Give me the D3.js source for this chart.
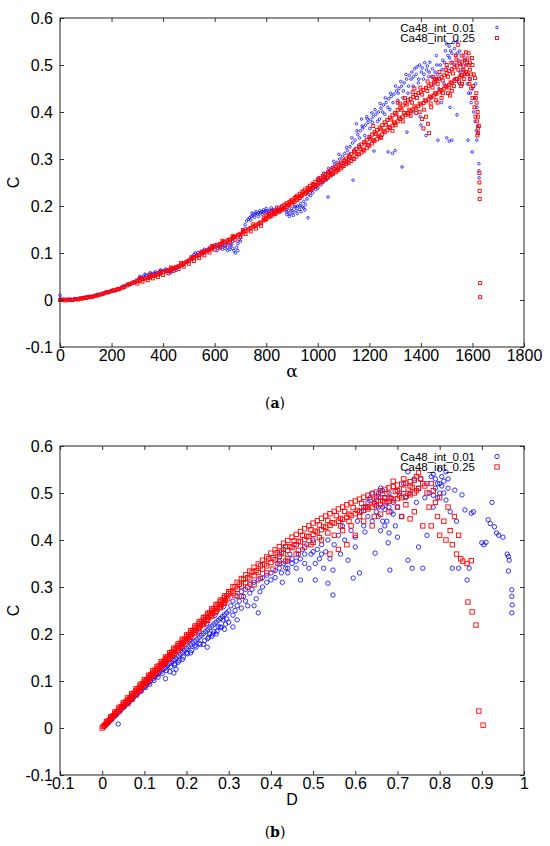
<!DOCTYPE html>
<html><head><meta charset="utf-8">
<script src="https://cdn.jsdelivr.net/npm/d3@7"></script>
<style>body{margin:0;background:#fff}svg{display:block}</style>
</head><body><svg id="c" width="550" height="846"></svg>
<script>
const alphaTicks=[0,200,400,600,800,1000,1200,1400,1600,1800];
const dTicks=[-0.1,0,0.1,0.2,0.3,0.4,0.5,0.6,0.7,0.8,0.9,1];
const cTicks=[-0.1,0,0.1,0.2,0.3,0.4,0.5,0.6];
const seriesNames=["Ca48_int_0.01","Ca48_int_0.25"];
const captions=["a","b"];

// Panel (a): C versus alpha
const blueA=[[0,0.010],[5,0.002],[15,0.001],[25,0.000],[35,0.002],[45,0.001],[55,0.003],[65,0.002],[75,0.004],[85,0.005],[95,0.006],[105,0.005],[115,0.008],[125,0.007],[135,0.010],[145,0.012],[155,0.011],[165,0.014],[175,0.016],[185,0.015],[195,0.019],[205,0.020],[215,0.019],[225,0.024],[235,0.026],[245,0.030],[255,0.031],[265,0.034],[275,0.033],[285,0.038],
[295,0.042],[305,0.045],[315,0.048],[325,0.051],[335,0.053],[345,0.054],[355,0.056],[365,0.057],[375,0.058],[385,0.060],[395,0.062],[405,0.063],[415,0.064],[325,0.046],[345,0.050],[365,0.052],[385,0.056],
[310,0.050],[330,0.055],[350,0.058],[370,0.060],[390,0.064],[410,0.066],
[425,0.060],[435,0.062],[445,0.066],[455,0.069],[465,0.071],[475,0.073],[485,0.079],[495,0.083],[430,0.058],[450,0.063],
[505,0.088],[515,0.093],[520,0.097],[525,0.100],[535,0.101],[545,0.102],[555,0.104],[565,0.106],[575,0.108],[585,0.110],[595,0.112],[530,0.095],[550,0.098],[570,0.103],[590,0.108],[560,0.108],[580,0.112],[600,0.118],
[605,0.113],[615,0.114],[625,0.117],[635,0.115],[640,0.110],[645,0.119],[650,0.112],[655,0.122],[660,0.108],[665,0.118],[670,0.124],[675,0.105],[680,0.100],[685,0.112],[690,0.120],[695,0.128],[700,0.133],[620,0.110],[630,0.108],[660,0.115],[670,0.110],[610,0.105],[650,0.105],[690,0.105],[700,0.125],
[705,0.140],[712,0.150],[718,0.160],[724,0.168],[730,0.172],[736,0.175],[742,0.178],[748,0.180],[754,0.182],[760,0.184],[766,0.183],[772,0.186],[778,0.185],[784,0.188],[790,0.187],[796,0.189],[740,0.170],[755,0.176],[770,0.178],[785,0.182],[720,0.152],[745,0.185],[760,0.188],[775,0.190],[790,0.192],
[802,0.190],[808,0.188],[814,0.191],[820,0.190],[826,0.192],[832,0.189],[838,0.193],[844,0.190],[850,0.192],[856,0.195],[862,0.194],[868,0.197],[810,0.184],[830,0.185],[850,0.187],[800,0.195],[820,0.196],[840,0.198],[860,0.200],
[874,0.192],[880,0.187],[886,0.190],[892,0.183],[898,0.194],[904,0.186],[910,0.198],[916,0.190],[922,0.200],[928,0.193],[934,0.205],[940,0.198],[946,0.210],[952,0.203],[958,0.215],[890,0.178],[905,0.180],[920,0.184],[935,0.188],[950,0.192],[962,0.175],[880,0.182],[900,0.190],[915,0.198],[930,0.200],[945,0.196],
[965,0.225],[975,0.232],[985,0.240],[995,0.246],[1005,0.253],[1015,0.258],[1025,0.262],[1035,0.270],[1045,0.275],[1055,0.282],[1065,0.288],[1075,0.293],[1085,0.300],[1095,0.306],[980,0.228],[1000,0.238],[1020,0.250],[1040,0.219],[1060,0.272],[1080,0.280],
[962,0.232],[972,0.222],[982,0.245],[992,0.235],[1002,0.260],[1012,0.245],[1022,0.270],[1032,0.255],[1042,0.280],[1052,0.265],[1062,0.295],[1072,0.280],[1082,0.310],[1092,0.290],
[1105,0.312],[1115,0.318],[1125,0.326],[1135,0.334],[1145,0.340],[1155,0.352],[1165,0.360],[1175,0.366],[1185,0.372],[1195,0.378],[1205,0.384],[1215,0.390],[1225,0.395],[1150,0.375],[1170,0.385],[1190,0.390],[1210,0.398],[1137,0.255],[1120,0.300],[1160,0.330],[1200,0.345],[1218,0.317],
[1102,0.290],[1112,0.325],[1122,0.310],[1132,0.345],[1142,0.320],[1152,0.360],[1162,0.345],[1172,0.370],[1182,0.350],[1192,0.385],[1202,0.365],[1212,0.378],[1222,0.405],[1232,0.380],[1242,0.418],[1252,0.400],[1262,0.430],[1272,0.410],[1282,0.440],[1292,0.420],
[1235,0.400],[1245,0.408],[1255,0.415],[1265,0.420],[1275,0.428],[1285,0.433],[1295,0.438],[1240,0.385],[1260,0.395],[1280,0.405],[1273,0.315],[1290,0.312],[1300,0.318],
[1305,0.445],[1315,0.450],[1325,0.455],[1335,0.462],[1345,0.470],[1355,0.478],[1365,0.485],[1375,0.492],[1385,0.496],[1395,0.500],[1405,0.494],[1415,0.505],[1425,0.498],[1435,0.506],[1445,0.492],[1455,0.485],[1310,0.425],[1330,0.430],[1350,0.440],[1370,0.455],[1390,0.462],[1410,0.470],[1430,0.475],[1450,0.460],[1327,0.283],[1346,0.357],[1397,0.390],[1400,0.372],[1420,0.350],[1440,0.430],[1370,0.400],
[1302,0.455],[1312,0.440],[1322,0.465],[1332,0.445],[1342,0.480],[1352,0.455],[1362,0.470],[1372,0.475],[1382,0.480],[1392,0.470],[1402,0.485],[1412,0.480],[1422,0.490],[1432,0.485],[1442,0.475],[1452,0.470],
[1465,0.480],[1475,0.500],[1485,0.510],[1495,0.530],[1500,0.545],[1505,0.520],[1510,0.540],[1515,0.530],[1520,0.525],[1525,0.548],[1530,0.535],[1535,0.520],[1540,0.550],[1545,0.510],[1550,0.530],[1555,0.500],[1466,0.340],[1500,0.345],[1510,0.338],[1520,0.340],[1513,0.410],[1470,0.450],[1490,0.460],[1480,0.420],[1530,0.470],[1550,0.460],[1540,0.394],[1460,0.520],
[1462,0.500],[1472,0.470],[1482,0.490],[1492,0.505],[1502,0.495],[1512,0.515],[1522,0.505],[1532,0.500],[1542,0.525],[1552,0.485],[1562,0.490],[1572,0.510],[1582,0.480],[1592,0.440],
[1565,0.520],[1570,0.480],[1575,0.500],[1580,0.460],[1583,0.340],[1585,0.440],[1590,0.470],[1595,0.420],[1599,0.315],[1600,0.450],[1605,0.400],[1608,0.430],[1610,0.380],[1612,0.460],[1615,0.360],[1617,0.340],[1618,0.410],[1620,0.370],[1622,0.355],[1625,0.290],[1625,0.275],[1626,0.260]];

const redA=[[0,0.000],[10,0.001],[20,-0.001],[30,0.000],[40,0.001],[50,0.000],[60,0.002],[70,0.001],[80,0.003],[90,0.004],
[100,0.004],[110,0.006],[120,0.006],[130,0.008],[140,0.009],[150,0.011],[160,0.012],[170,0.014],[180,0.016],[190,0.017],
[200,0.019],[210,0.021],[220,0.022],[230,0.023],[240,0.026],[250,0.028],[260,0.031],[270,0.034],[280,0.036],[290,0.038],
[300,0.040],[310,0.042],[320,0.044],[330,0.046],[340,0.047],[350,0.049],[360,0.051],[370,0.053],[380,0.054],[390,0.057],
[400,0.059],[410,0.061],[420,0.063],[430,0.065],[440,0.068],[450,0.070],[460,0.072],[470,0.075],[480,0.078],[490,0.081],
[500,0.084],[510,0.087],[520,0.090],[530,0.093],[540,0.096],[550,0.099],[560,0.102],[570,0.105],[580,0.108],[590,0.111],
[600,0.114],[610,0.117],[620,0.119],[630,0.122],[640,0.124],[650,0.127],[660,0.129],[670,0.132],[680,0.135],[690,0.138],
[700,0.141],[710,0.144],[720,0.147],[730,0.150],[740,0.153],[750,0.156],[760,0.159],[770,0.162],[780,0.165],[790,0.169],
[5,0.000],[25,0.001],[45,0.000],[65,0.002],[85,0.003],[105,0.006],[125,0.007],[145,0.010],[165,0.013],[185,0.017],[205,0.020],[225,0.023],[245,0.027],[265,0.033],[285,0.037],[305,0.041],[325,0.045],[345,0.048],[365,0.052],[385,0.056],
[415,0.062],[435,0.067],[455,0.070],[475,0.077],[495,0.082],[515,0.089],[535,0.095],[555,0.100],[575,0.106],[595,0.113],[615,0.117],[635,0.124],[655,0.127],[675,0.134],[695,0.139],[715,0.146],[735,0.152],[755,0.158],[775,0.164],[795,0.171],
[300,0.035],[320,0.039],[340,0.042],[360,0.046],[380,0.049],[400,0.053],[420,0.057],[440,0.062],[460,0.066],[480,0.071],[500,0.077],[520,0.083],[540,0.089],[560,0.095],[580,0.101],[600,0.107],[620,0.112],[640,0.117],[660,0.122],[680,0.128],[700,0.134],[720,0.140],[740,0.146],[760,0.152],[780,0.158],
[310,0.047],[350,0.054],[390,0.061],[430,0.069],[470,0.079],[510,0.091],[550,0.103],[590,0.115],[630,0.126],[670,0.136],[710,0.149],[750,0.161],[790,0.174],
[800,0.180],[800,0.172],[810,0.183],[810,0.176],[820,0.186],[820,0.179],[830,0.189],[830,0.182],[840,0.192],[840,0.186],[850,0.196],[850,0.188],[860,0.199],[860,0.192],[870,0.202],[870,0.195],[880,0.206],[880,0.198],[890,0.209],[890,0.202],
[900,0.213],[900,0.205],[910,0.217],[910,0.209],[920,0.222],[920,0.213],[930,0.226],[930,0.217],[940,0.230],[940,0.222],[950,0.235],[950,0.226],[960,0.239],[960,0.230],[970,0.243],[970,0.234],[980,0.247],[980,0.238],[990,0.251],[990,0.242],
[1000,0.256],[1000,0.246],[1010,0.260],[1010,0.250],[1020,0.264],[1020,0.254],[1030,0.268],[1030,0.257],[1040,0.272],[1040,0.261],[1050,0.276],[1050,0.265],[1060,0.280],[1060,0.269],[1070,0.284],[1070,0.272],[1080,0.288],[1080,0.276],[1090,0.292],[1090,0.280],
[1100,0.297],[1100,0.285],[1110,0.301],[1110,0.289],[1120,0.306],[1120,0.292],[1130,0.311],[1130,0.296],[1140,0.316],[1140,0.300],[1150,0.321],[1150,0.305],[1160,0.326],[1160,0.310],[1170,0.331],[1170,0.314],[1180,0.336],[1180,0.318],[1190,0.341],[1190,0.323],
[1200,0.347],[1200,0.328],[1210,0.352],[1210,0.333],[1220,0.357],[1220,0.338],[1230,0.362],[1230,0.342],[1240,0.367],[1240,0.347],[1250,0.372],[1250,0.352],[1260,0.378],[1260,0.357],[1270,0.383],[1270,0.361],[1280,0.388],[1280,0.366],[1290,0.393],[1290,0.371],
[1300,0.398],[1300,0.376],[1310,0.404],[1310,0.380],[1320,0.409],[1320,0.385],[1330,0.414],[1330,0.389],[1340,0.419],[1340,0.394],[1350,0.425],[1350,0.398],[1360,0.428],[1360,0.402],[1370,0.432],[1370,0.405],[1380,0.436],[1380,0.408],[1390,0.440],[1390,0.412],
[1400,0.443],[1400,0.416],[1410,0.447],[1410,0.419],[1420,0.451],[1420,0.423],[1430,0.455],[1430,0.427],[1440,0.459],[1440,0.431],[1450,0.463],[1450,0.435],[1460,0.467],[1460,0.438],[1470,0.471],[1470,0.442],[1480,0.474],[1480,0.446],[1490,0.478],[1490,0.450],
[1500,0.483],[1500,0.454],[1510,0.487],[1510,0.458],[1520,0.491],[1520,0.462],[1530,0.495],[1530,0.466],[1540,0.499],[1540,0.470],[1550,0.503],[1550,0.474],[1560,0.507],[1560,0.478],[1570,0.511],[1570,0.482],[1580,0.514],[1580,0.480],[1590,0.505],[1590,0.470],
[805,0.181],[815,0.178],[825,0.185],[835,0.183],[845,0.192],[855,0.190],[865,0.194],[875,0.203],[885,0.201],[895,0.210],[905,0.208],[915,0.219],[925,0.216],[935,0.221],[945,0.231],[955,0.228],[965,0.238],[975,0.236],[985,0.246],[995,0.243],
[1005,0.255],[1015,0.252],[1025,0.262],[1035,0.260],[1045,0.270],[1055,0.268],[1065,0.279],[1075,0.276],[1085,0.287],[1095,0.284],[1105,0.296],[1115,0.293],[1125,0.304],[1135,0.301],[1145,0.314],[1155,0.311],[1165,0.322],[1175,0.320],[1185,0.333],[1195,0.330],
[1205,0.343],[1215,0.340],[1225,0.353],[1235,0.350],[1245,0.363],[1255,0.360],[1265,0.373],[1275,0.368],[1285,0.384],[1295,0.378],[1305,0.395],[1315,0.388],[1325,0.405],[1335,0.398],[1345,0.416],[1355,0.405],[1365,0.420],[1375,0.412],[1385,0.430],[1395,0.418],
[1405,0.437],[1415,0.425],[1425,0.445],[1435,0.433],[1445,0.452],[1455,0.440],[1465,0.460],[1475,0.447],[1485,0.467],[1495,0.455],[1505,0.475],[1515,0.463],[1525,0.482],[1535,0.470],[1545,0.490],[1555,0.478],[1565,0.497],[1575,0.485],[1585,0.500],[1595,0.480],
[1302,0.372],[1318,0.418],[1338,0.430],[1352,0.395],[1368,0.442],[1382,0.398],[1398,0.452],[1412,0.405],[1426,0.465],[1438,0.418],[1448,0.475],[1458,0.425],[1472,0.485],[1486,0.440],[1496,0.490],[1508,0.452],[1518,0.505],[1528,0.455],[1538,0.510],[1548,0.465],[1558,0.520],[1568,0.470],[1578,0.505],[1588,0.460],[1598,0.515],[1603,0.455],[1613,0.430],[1619,0.350],[1621,0.390],[1410,0.365],[1432,0.355],
[1215,0.370],[1245,0.345],[1290,0.360],[1310,0.420],[1330,0.380],
[1360,0.392],[1375,0.450],[1395,0.400],[1405,0.385],[1420,0.390],[1428,0.375],[1440,0.410],[1455,0.470],[1465,0.420],[1480,0.430],[1500,0.500],[1505,0.440],[1513,0.435],[1520,0.445],[1535,0.520],[1545,0.543],[1555,0.455],[1560,0.460],[1565,0.490],[1575,0.527],[1585,0.525],[1590,0.490],[1595,0.450],[1600,0.500],[1600,0.430],[1605,0.480],[1608,0.410],[1610,0.472],[1612,0.390],[1615,0.440],[1616,0.420],[1618,0.380],[1620,0.400],[1622,0.365],[1622,0.355],[1625,0.370],[1627,0.270],[1627,0.250],[1628,0.232],[1628,0.215],[1630,0.036],[1630,0.006]];

// Panel (b): C versus D
const blueB=[[0.005,0.003],[0.01,0.008],[0.015,0.012],[0.02,0.017],[0.025,0.022],[0.03,0.026],[0.035,0.031],[0.038,0.0085],[0.04,0.035],[0.045,0.040],[0.05,0.044],[0.055,0.049],[0.06,0.053],[0.065,0.057],[0.07,0.062],[0.075,0.066],[0.08,0.071],[0.085,0.075],[0.09,0.080],[0.095,0.084],[0.10,0.088],[0.105,0.092],[0.11,0.096],[0.115,0.101],[0.12,0.105],[0.125,0.109],[0.13,0.113],[0.135,0.117],[0.14,0.121],[0.145,0.125],[0.15,0.128],[0.155,0.133],[0.16,0.137],[0.165,0.141],[0.17,0.145],[0.175,0.149],[0.18,0.153],[0.185,0.157],[0.19,0.161],[0.195,0.165],[0.2,0.169],[0.205,0.173],[0.21,0.177],[0.215,0.181],[0.22,0.185],[0.225,0.189],[0.23,0.193],[0.235,0.197],[0.24,0.201],[0.245,0.205],[0.25,0.209],[0.255,0.213],[0.26,0.217],[0.265,0.221],[0.27,0.225],[0.275,0.229],[0.28,0.233],[0.285,0.237],[0.29,0.241],[0.295,0.245],[0.30,0.249],
[0.0125,0.009],[0.0225,0.018],[0.0325,0.027],[0.0425,0.036],[0.0525,0.045],[0.0625,0.053],[0.0725,0.062],[0.0825,0.070],[0.0925,0.078],[0.1025,0.086],[0.1125,0.093],[0.1225,0.101],[0.1325,0.108],[0.1425,0.116],[0.1525,0.122],[0.1625,0.130],[0.1725,0.137],[0.1825,0.144],[0.1925,0.151],[0.2025,0.158],[0.2125,0.165],[0.2225,0.172],[0.2325,0.178],[0.2425,0.186],[0.2525,0.193],[0.2625,0.200],[0.2725,0.206],[0.2825,0.214],[0.2925,0.221],
[0.1075,0.097],[0.1275,0.115],[0.1475,0.134],[0.1675,0.152],[0.1875,0.170],[0.2075,0.188],[0.2275,0.205],[0.2475,0.222],[0.2675,0.240],[0.2875,0.258],
[0.15,0.105],[0.16,0.120],[0.17,0.117],[0.172,0.134],[0.175,0.125],[0.18,0.140],[0.19,0.146],[0.2,0.160],[0.21,0.160],[0.22,0.175],[0.23,0.180],[0.24,0.178],[0.249,0.172],[0.25,0.190],[0.26,0.195],[0.265,0.205],[0.27,0.200],[0.28,0.215],[0.287,0.230],[0.29,0.210],[0.3,0.225],[0.31,0.215],[0.31,0.240],[0.32,0.230],[0.32,0.260],[0.33,0.255],[0.34,0.270],[0.35,0.287],[0.36,0.260],[0.365,0.275],[0.37,0.245],[0.374,0.290],
[0.255,0.200],[0.275,0.215],[0.295,0.232],[0.305,0.260],[0.315,0.250],[0.325,0.270],[0.335,0.280],[0.345,0.260],[0.355,0.295],[0.38,0.300],[0.39,0.310],[0.40,0.315],[0.42,0.355],[0.44,0.340],[0.46,0.355],[0.48,0.370],[0.50,0.375],[0.52,0.370],
[0.31,0.270],[0.32,0.280],[0.33,0.290],[0.34,0.295],[0.35,0.305],[0.36,0.310],[0.37,0.315],[0.38,0.320],[0.39,0.325],[0.40,0.330],[0.41,0.335],[0.42,0.340],[0.43,0.350],[0.44,0.355],[0.45,0.360],
[0.41,0.320],[0.415,0.350],[0.42,0.370],[0.425,0.330],[0.427,0.310],[0.43,0.380],[0.435,0.340],[0.44,0.330],[0.445,0.370],[0.45,0.350],[0.455,0.390],[0.46,0.340],[0.465,0.370],[0.47,0.315],[0.47,0.360],[0.475,0.380],[0.48,0.350],[0.485,0.390],[0.49,0.340],[0.495,0.370],[0.50,0.400],[0.505,0.315],[0.505,0.350],[0.51,0.380],[0.515,0.360],[0.52,0.390],[0.525,0.340],[0.53,0.375],[0.535,0.308],[0.535,0.400],[0.54,0.360],[0.547,0.336],[0.547,0.283],[0.55,0.390],
[0.56,0.410],[0.565,0.370],[0.57,0.430],[0.575,0.400],[0.583,0.357],[0.59,0.420],[0.595,0.319],[0.60,0.406],[0.60,0.385],[0.605,0.440],[0.61,0.330],[0.615,0.460],[0.62,0.430],[0.623,0.417],[0.625,0.470],[0.63,0.450],[0.635,0.490],[0.64,0.440],[0.645,0.480],[0.647,0.372],[0.65,0.460],[0.655,0.500],[0.66,0.510],[0.665,0.470],[0.67,0.490],[0.675,0.440],[0.678,0.394],[0.68,0.500],[0.682,0.336],[0.685,0.460],[0.69,0.480],[0.695,0.430],[0.70,0.406],[0.70,0.470],
[0.62,0.470],[0.63,0.480],[0.64,0.500],[0.65,0.490],[0.655,0.470],[0.66,0.490],[0.665,0.505],[0.67,0.465],[0.675,0.480],[0.68,0.470],[0.685,0.490],[0.69,0.455],[0.665,0.440],[0.66,0.420],[0.67,0.430],[0.68,0.415],[0.655,0.450],
[0.705,0.500],[0.71,0.450],[0.715,0.520],[0.72,0.490],[0.725,0.545],[0.725,0.357],[0.73,0.500],[0.735,0.340],[0.74,0.530],[0.745,0.480],[0.75,0.385],[0.75,0.510],[0.755,0.530],[0.76,0.340],[0.765,0.490],[0.77,0.410],[0.77,0.520],[0.775,0.500],[0.78,0.535],[0.785,0.470],[0.79,0.510],[0.795,0.490],[0.80,0.550],[0.80,0.520],[0.805,0.535],[0.81,0.500],[0.815,0.485],[0.82,0.510],[0.825,0.460],[0.83,0.340],[0.836,0.506],[0.84,0.440],[0.845,0.340],[0.853,0.496],[0.86,0.464],[0.865,0.315],[0.87,0.340],[0.875,0.457],[0.88,0.460],
[0.785,0.540],[0.79,0.530],[0.795,0.520],[0.805,0.515],[0.81,0.525],[0.815,0.545],[0.82,0.530],[0.785,0.495],[0.80,0.500],
[0.9,0.394],[0.905,0.390],[0.91,0.395],[0.915,0.443],[0.92,0.435],[0.924,0.480],[0.93,0.428],[0.935,0.415],[0.94,0.410],[0.95,0.406],[0.96,0.370],[0.963,0.365],[0.965,0.357],[0.963,0.334],[0.971,0.294],[0.971,0.280],[0.972,0.262],[0.971,0.245]];

const redB=[[0,0],[0.005,0.005],[0.01,0.010],[0.015,0.015],[0.02,0.020],[0.025,0.025],[0.03,0.030],[0.035,0.035],[0.04,0.040],[0.045,0.045],[0.05,0.050],[0.055,0.055],[0.06,0.059],[0.065,0.064],[0.07,0.069],[0.075,0.074],[0.08,0.079],[0.085,0.084],[0.09,0.089],[0.095,0.094],[0.1,0.099],[0.105,0.103],[0.11,0.108],[0.115,0.113],[0.12,0.118],[0.125,0.123],[0.13,0.127],[0.135,0.132],[0.14,0.137],[0.145,0.142],[0.15,0.147],[0.155,0.151],[0.16,0.156],[0.165,0.161],[0.17,0.166],[0.175,0.170],[0.18,0.175],[0.185,0.180],[0.19,0.185],[0.195,0.189],[0.2,0.194],[0.205,0.199],[0.21,0.203],[0.215,0.208],[0.22,0.213],[0.225,0.217],[0.23,0.222],[0.235,0.227],[0.24,0.231],[0.245,0.236],[0.25,0.240],[0.255,0.245],[0.26,0.250],[0.265,0.254],[0.27,0.259],[0.275,0.263],[0.28,0.268],[0.285,0.272],[0.29,0.277],[0.295,0.281],[0.3,0.286],
[0.01,0.014],[0.02,0.024],[0.03,0.034],[0.04,0.044],[0.05,0.054],[0.06,0.064],[0.07,0.073],[0.08,0.083],[0.09,0.093],[0.10,0.103],[0.11,0.112],[0.12,0.122],[0.13,0.131],[0.14,0.141],[0.15,0.151],[0.16,0.160],[0.17,0.170],[0.18,0.179],[0.19,0.189],[0.20,0.198],[0.21,0.207],[0.22,0.217],[0.23,0.226],[0.24,0.235],[0.25,0.244],[0.26,0.254],[0.27,0.263],[0.28,0.272],[0.29,0.281],[0.30,0.290],
[0.0025,0.003],[0.0075,0.007],[0.0125,0.012],[0.0175,0.017],[0.0225,0.021],[0.0275,0.026],[0.0325,0.031],[0.0375,0.035],[0.0425,0.040],[0.0475,0.045],
[0.0525,0.050],[0.0575,0.054],[0.0625,0.059],[0.0675,0.064],[0.0725,0.068],[0.0775,0.073],[0.0825,0.078],[0.0875,0.083],[0.0925,0.087],[0.0975,0.092],[0.1025,0.097],[0.1075,0.102],[0.1125,0.107],[0.1175,0.112],[0.1225,0.116],[0.1275,0.121],[0.1325,0.126],[0.1375,0.131],[0.1425,0.135],[0.1475,0.140],
[0.1525,0.145],[0.1575,0.149],[0.1625,0.154],[0.1675,0.159],[0.1725,0.163],[0.1775,0.168],[0.1825,0.172],[0.1875,0.177],[0.1925,0.181],[0.1975,0.186],[0.2025,0.190],[0.2075,0.195],[0.2125,0.199],[0.2175,0.204],[0.2225,0.208],[0.2275,0.213],[0.2325,0.217],[0.2375,0.222],[0.2425,0.226],[0.2475,0.231],
[0.2525,0.235],[0.2575,0.240],[0.2625,0.244],[0.2675,0.248],[0.2725,0.253],[0.2775,0.257],[0.2825,0.262],[0.2875,0.266],[0.2925,0.271],[0.2975,0.275],
[0.06,0.052],[0.07,0.061],[0.08,0.071],[0.09,0.080],[0.10,0.090],[0.11,0.099],[0.12,0.109],[0.13,0.118],[0.14,0.128],[0.15,0.137],[0.16,0.146],[0.17,0.156],[0.18,0.165],[0.19,0.174],[0.20,0.184],[0.21,0.193],[0.22,0.202],[0.23,0.211],[0.24,0.220],[0.25,0.229],[0.26,0.238],[0.27,0.247],[0.28,0.256],[0.29,0.265],
[0.31,0.301],[0.31,0.287],[0.32,0.310],[0.32,0.295],[0.33,0.318],[0.33,0.302],[0.34,0.326],[0.34,0.309],[0.35,0.334],[0.35,0.317],[0.36,0.342],[0.36,0.324],[0.37,0.349],[0.37,0.331],[0.38,0.357],[0.38,0.338],[0.39,0.364],[0.39,0.345],[0.40,0.372],[0.40,0.352],
[0.41,0.379],[0.41,0.358],[0.42,0.386],[0.42,0.365],[0.43,0.393],[0.43,0.371],[0.44,0.399],[0.44,0.378],[0.45,0.406],[0.45,0.384],[0.46,0.412],[0.46,0.390],[0.47,0.418],[0.47,0.396],[0.48,0.424],[0.48,0.401],[0.49,0.430],[0.49,0.407],[0.50,0.436],[0.50,0.412],
[0.51,0.441],[0.51,0.417],[0.52,0.446],[0.52,0.422],[0.53,0.451],[0.53,0.427],[0.54,0.456],[0.54,0.431],[0.55,0.461],[0.55,0.436],[0.56,0.466],[0.56,0.440],[0.57,0.470],[0.57,0.444],[0.58,0.475],[0.58,0.448],[0.59,0.479],[0.59,0.452],[0.60,0.483],[0.60,0.456],
[0.61,0.487],[0.61,0.460],[0.62,0.491],[0.62,0.463],[0.63,0.495],[0.63,0.466],[0.64,0.498],[0.64,0.470],[0.65,0.502],[0.65,0.473],[0.66,0.505],[0.66,0.476],[0.67,0.508],[0.67,0.479],[0.68,0.511],[0.68,0.482],[0.69,0.514],[0.69,0.485],[0.70,0.517],[0.70,0.488],
[0.71,0.519],[0.71,0.490],[0.72,0.521],[0.72,0.493],[0.73,0.524],[0.73,0.496],[0.74,0.527],[0.74,0.500],[0.75,0.543],[0.75,0.510],
[0.305,0.290],[0.315,0.300],[0.325,0.306],[0.335,0.316],[0.345,0.320],[0.355,0.331],[0.365,0.335],[0.375,0.345],[0.385,0.349],[0.395,0.360],[0.405,0.362],[0.415,0.373],[0.425,0.374],[0.435,0.386],[0.445,0.386],[0.455,0.398],[0.465,0.397],[0.475,0.410],[0.485,0.408],[0.495,0.422],
[0.505,0.419],[0.515,0.432],[0.525,0.429],[0.535,0.442],[0.545,0.437],[0.555,0.452],[0.565,0.446],[0.575,0.461],[0.585,0.455],[0.595,0.469],[0.605,0.463],[0.615,0.478],[0.625,0.470],[0.635,0.485],[0.645,0.477],[0.655,0.492],[0.665,0.483],[0.675,0.498],[0.685,0.488],[0.695,0.503],
[0.705,0.494],[0.715,0.508],[0.725,0.499],[0.735,0.512],[0.745,0.505],
[0.315,0.282],[0.345,0.300],[0.375,0.318],[0.405,0.338],[0.435,0.355],[0.465,0.378],[0.495,0.390],[0.515,0.405],[0.535,0.415],[0.565,0.430],[0.585,0.440],
[0.33,0.280],[0.36,0.305],[0.39,0.330],[0.42,0.350],[0.44,0.360],[0.46,0.370],[0.48,0.385],[0.50,0.395],[0.52,0.400],[0.54,0.370],[0.55,0.410],[0.57,0.420],[0.59,0.430],[0.60,0.410],[0.62,0.440],[0.64,0.430],[0.645,0.450],[0.66,0.455],[0.68,0.460],[0.70,0.470],[0.71,0.450],[0.72,0.475],[0.73,0.445],[0.74,0.460],[0.76,0.430],[0.76,0.520],[0.77,0.500],[0.775,0.470],[0.78,0.430],[0.785,0.505],[0.79,0.480],[0.795,0.450],[0.80,0.410],[0.80,0.490],[0.81,0.440],[0.815,0.400],[0.82,0.470],[0.825,0.420],[0.83,0.390],[0.835,0.450],[0.84,0.370],[0.845,0.410],[0.85,0.360],[0.855,0.355],[0.865,0.350],[0.875,0.356],[0.867,0.268],[0.877,0.247],[0.886,0.219],[0.893,0.036],[0.903,0.006],
[0.70,0.505],[0.715,0.530],[0.73,0.515],[0.745,0.535],[0.755,0.530],[0.765,0.515],[0.78,0.520],[0.69,0.525],[0.67,0.490],[0.65,0.485],[0.63,0.470],[0.61,0.450],[0.58,0.390],[0.56,0.380]];

const svg=d3.select("#c");
svg.append("rect").attr("width",550).attr("height",846).attr("fill","#fff");
const FONT="'Liberation Sans', Arial, Helvetica, sans-serif";
const BLUE="#0000ff", RED="#ff0000";
const fmt=d=>String(+d.toFixed(1));

function panel(o){
  const x=d3.scaleLinear().domain(o.xDomain).range([60,524]);
  const y=d3.scaleLinear().domain([-0.1,0.6]).range([o.bottom,o.top]);
  const g=svg.append("g");

  g.append("g").selectAll("circle").data(o.blue).join("circle")
    .attr("cx",d=>x(d[0])).attr("cy",d=>y(d[1])).attr("r",o.r)
    .attr("fill","none").attr("stroke",BLUE).attr("stroke-width",o.sw);
  g.append("g").selectAll("rect").data(o.red).join("rect")
    .attr("x",d=>x(d[0])-o.s/2).attr("y",d=>y(d[1])-o.s/2)
    .attr("width",o.s).attr("height",o.s)
    .attr("fill","none").attr("stroke",RED).attr("stroke-width",o.swr);

  const style=sel=>{sel.select(".domain").remove();
    sel.selectAll(".tick line").attr("stroke","#333");
    sel.selectAll("text").attr("fill","#000").style("font-family",FONT).style("font-size","16px");};
  g.append("g").attr("transform",`translate(0,${o.bottom})`)
    .call(d3.axisBottom(x).tickValues(o.xTicks).tickSizeInner(-4).tickSizeOuter(0).tickPadding(3).tickFormat(fmt)).call(style);
  g.append("g").attr("transform",`translate(0,${o.top})`)
    .call(d3.axisTop(x).tickValues(o.xTicks).tickSizeInner(-4).tickSizeOuter(0).tickFormat("")).call(style);
  g.append("g").attr("transform",`translate(60,0)`)
    .call(d3.axisLeft(y).tickValues(cTicks).tickSizeInner(-4).tickSizeOuter(0).tickPadding(7).tickFormat(fmt)).call(style);
  g.append("g").attr("transform",`translate(524,0)`)
    .call(d3.axisRight(y).tickValues(cTicks).tickSizeInner(-4).tickSizeOuter(0).tickFormat("")).call(style);

  g.append("rect").attr("x",60).attr("y",o.top).attr("width",464).attr("height",o.bottom-o.top)
    .attr("fill","none").attr("stroke","#222").attr("stroke-width",1);

  g.append("text").attr("x",292).attr("y",o.bottom+30).attr("text-anchor","middle")
    .style("font-family",o.xFont).style("font-size",o.xSize).text(o.xLabel);
  g.append("text").attr("transform",`translate(19,${(o.top+o.bottom)/2}) rotate(-90)`).attr("text-anchor","middle")
    .style("font-family",FONT).style("font-size","16px").text("C");

  const ly=[o.top+o.leg, o.top+o.leg+10.5];
  seriesNames.forEach((n,i)=>{
    g.append("text").attr("x",475).attr("y",ly[i]).attr("dy","0.35em").attr("text-anchor","end")
      .style("font-family",FONT).style("font-size","11.5px").attr("fill","#000").text(n);
  });
  g.append("circle").attr("cx",497).attr("cy",ly[0]).attr("r",o.r).attr("fill","none").attr("stroke",BLUE).attr("stroke-width",o.sw);
  g.append("rect").attr("x",497-o.s/2).attr("y",ly[1]-o.s/2).attr("width",o.s).attr("height",o.s).attr("fill","none").attr("stroke",RED).attr("stroke-width",o.swr);

  const cap=g.append("text").attr("x",275).attr("y",o.capY).attr("text-anchor","middle")
    .style("font-family","'DejaVu Serif', 'Liberation Serif', serif").style("font-size","14px");
  cap.append("tspan").text("(");
  cap.append("tspan").attr("font-weight","bold").text(o.cap);
  cap.append("tspan").text(")");
}

panel({xDomain:[0,1800],xTicks:alphaTicks,top:18,bottom:347,blue:blueA,red:redA,r:1.3,s:3,sw:0.75,swr:0.9,
  xLabel:"α",xFont:"'DejaVu Serif', serif",xSize:"17px",leg:9.5,capY:408,cap:captions[0]});
panel({xDomain:[-0.1,1],xTicks:dTicks,top:446,bottom:775,blue:blueB,red:redB,r:2.2,s:4.4,sw:0.8,swr:0.9,
  xLabel:"D",xFont:FONT,xSize:"16px",leg:10.5,capY:837,cap:captions[1]});
</script></body></html>
